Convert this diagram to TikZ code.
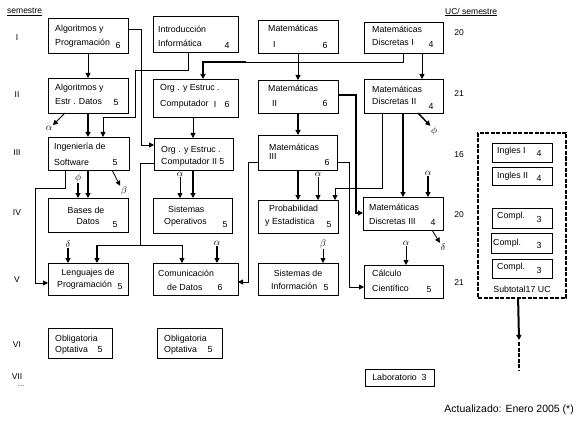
\documentclass[tikz,border=0pt]{standalone}
\usepackage{fontspec}
\setmainfont{Liberation Sans}
\usetikzlibrary{arrows.meta,calc,fit}
\newcommand\cbx[5]{\coordinate (#1-a) at (#2,#3); \coordinate (#1-b) at (#4,#5); \node[cb, fit=(#1-a)(#1-b)] (#1) {};}
\begin{document}
\begin{tikzpicture}[x=1pt,y=-1pt,
  cb/.style={draw, line width=0.8pt, inner sep=0pt, outer sep=0pt},
  tx/.style={font=\fontsize{8.8}{10}\selectfont, inner sep=0pt, anchor=west},
  tc/.style={font=\fontsize{8.8}{10}\selectfont, inner sep=0pt},
  nm/.style={font=\fontsize{8.8}{10}\selectfont, inner sep=0pt},
  gr/.style={font=\fontsize{10}{11}\selectfont, inner sep=0.5pt},
  lb/.style={font=\fontsize{8.5}{10}\selectfont, inner sep=0pt},
  thn/.style={line width=0.8pt},
  med/.style={line width=1.4pt},
  thk/.style={line width=2pt},
  arr/.style={-{Triangle[length=5pt,width=5pt]}},
  dsh/.style={line width=1.8pt, dash pattern=on 4pt off 1.5pt}]
\useasboundingbox (0,0) rectangle (580,422);

% headers
\node[lb, anchor=west] (hsem) at (7,12) {\underline{semestre}};
\node[lb, anchor=west] (huc) at (445,12) {\underline{UC/ semestre}};
\node[lb] (r1) at (17,38) {I};
\node[lb] (r2) at (17,95) {II};
\node[lb] (r3) at (17,153) {III};
\node[lb] (r4) at (17,213) {IV};
\node[lb] (r5) at (17,280) {V};
\node[lb] (r6) at (17,345) {VI};
\node[lb] (r7) at (17,377) {VII};
\node[lb, font=\fontsize{6}{7}\selectfont] (r8) at (21,386) {....};
\node[lb] (u1) at (459,33) {20};
\node[lb] (u2) at (459,94) {21};
\node[lb] (u3) at (459,155) {16};
\node[lb] (u4) at (459,215) {20};
\node[lb] (u5) at (459,283) {21};
\node[lb, anchor=east, font=\fontsize{10.5}{12}\selectfont] (foot) at (574,410) {Actualizado: Enero 2005 (*)};

% boxes
\cbx{ap}{48}{18}{128}{53}
\node[tx] (ap1) at (55,29) {Algoritmos y};
\node[tx] (ap2) at (55,43) {Programación};
\node[nm] (ap3) at (118,45) {6};

\cbx{ii}{153}{16}{238}{52}
\node[tx] (ii1) at (158,29) {Introducción};
\node[tx] (ii2) at (158,43) {Informática};
\node[nm] (ii3) at (227,45) {4};

\cbx{m1}{258}{20}{338}{53}
\node[tx] (m11) at (268,28) {Matemáticas};
\node[tx] (m12) at (273,44) {I};
\node[nm] (m13) at (325,45) {6};

\cbx{d1}{364}{22}{443}{53}
\node[tx] (d11) at (372,29) {Matemáticas};
\node[tx] (d12) at (372,42) {Discretas I};
\node[nm] (d13) at (431,44) {4};

\cbx{ae}{48}{78}{128}{113}
\node[tx] (ae1) at (55,88) {Algoritmos y};
\node[tx] (ae2) at (55,102) {Estr . Datos};
\node[nm] (ae3) at (116,103) {5};

\cbx{o1}{153}{79}{238}{117}
\node[tx] (o11) at (160,88) {Org . y Estruc .};
\node[tx] (o12) at (160,104) {Computador};
\node[nm] (o13) at (215,104) {I};
\node[nm] (o14) at (227,104) {6};

\cbx{m2}{258}{80}{338}{113}
\node[tx] (m21) at (268,88) {Matemáticas};
\node[tx] (m22) at (272,103) {II};
\node[nm] (m23) at (325,103) {6};

\cbx{d2}{364}{79}{443}{113}
\node[tx] (d21) at (372,89) {Matemáticas};
\node[tx] (d22) at (372,101) {Discretas II};
\node[nm] (d23) at (431,106) {4};

\cbx{is}{48}{137}{129}{170}
\node[tx] (is1) at (54,147) {Ingeniería de};
\node[tx] (is2) at (54,162) {Software};
\node[nm] (is3) at (115,163) {5};

\cbx{o2}{154}{138}{233}{170}
\node[tx] (o21) at (161,150) {Org . y Estruc .};
\node[tx] (o22) at (161,162) {Computador II 5};

\cbx{m3}{258}{135}{337}{170}
\node[tx] (m31) at (269,147) {Matemáticas};
\node[tx] (m32) at (269,156) {III};
\node[nm] (m33) at (327,162) {6};

\cbx{bd}{48}{198}{128}{232}
\node[tc] (bd1) at (86,210) {Bases de};
\node[tc] (bd2) at (88,222) {Datos};
\node[nm] (bd3) at (115,225) {5};

\cbx{so}{153}{198}{232}{233}
\node[tx] (so1) at (168,209) {Sistemas};
\node[tx] (so2) at (164,222) {Operativos};
\node[nm] (so3) at (225,225) {5};

\cbx{pe}{258}{200}{338}{233}
\node[tx] (pe1) at (269,208) {Probabilidad};
\node[tx] (pe2) at (265,222) {y Estadistica};
\node[nm] (pe3) at (329,225) {5};

\cbx{d3}{363}{197}{443}{230}
\node[tx] (d31) at (369,207) {Matemáticas};
\node[tx] (d32) at (369,221) {Discretas III};
\node[nm] (d33) at (433,222) {4};

\cbx{lp}{48}{263}{128}{295}
\node[tc] (lp1) at (88,273) {Lenguajes de};
\node[tx] (lp2) at (57,285) {Programación};
\node[nm] (lp3) at (120,287) {5};

\cbx{cd}{153}{263}{238}{295}
\node[tx] (cd1) at (158,273) {Comunicación};
\node[tx] (cd2) at (167,287) {de Datos};
\node[nm] (cd3) at (220,287) {6};

\cbx{si}{258}{263}{338}{295}
\node[tc] (si1) at (298,273) {Sistemas de};
\node[tx] (si2) at (271,286) {Información};
\node[nm] (si3) at (326,288) {5};

\cbx{cc}{364}{265}{443}{298}
\node[tx] (cc1) at (372,273) {Cálculo};
\node[tx] (cc2) at (372,288) {Científico};
\node[nm] (cc3) at (429,290) {5};

\cbx{ob1}{48}{328}{112}{358}
\node[tx] (ob11) at (55,339) {Obligatoria};
\node[tx] (ob12) at (55,350) {Optativa};
\node[nm] (ob13) at (100,350) {5};

\cbx{ob2}{157}{328}{222}{358}
\node[tx] (ob21) at (164,339) {Obligatoria};
\node[tx] (ob22) at (164,350) {Optativa};
\node[nm] (ob23) at (210,350) {5};

\cbx{lab}{365}{369}{434}{386}
\node[tc] (lab1) at (399.5,377.5) {Laboratorio\ \ 3};

% right dashed group
\coordinate (dba) at (478,133); \coordinate (dbb) at (566,298);
\node[dsh, draw, inner sep=0pt, fit=(dba)(dbb)] (db) {};
\cbx{g1}{492}{143}{552}{162}
\node[tx] (g11) at (497,151) {Ingles I};
\node[nm] (g12) at (539,153) {4};
\cbx{g2}{492}{167}{552}{185}
\node[tx] (g21) at (497,176) {Ingles II};
\node[nm] (g22) at (539,178) {4};
\cbx{c1}{492}{208}{552}{228}
\node[tx] (c11) at (497,216) {Compl.};
\node[nm] (c12) at (539,219) {3};
\cbx{c2}{491}{233}{552}{253}
\node[tx] (c21) at (493,243) {Compl.};
\node[nm] (c22) at (539,245) {3};
\cbx{c3}{492}{259}{552}{278}
\node[tx] (c31) at (497,267) {Compl.};
\node[nm] (c32) at (539,270) {3};
\node[tc] (sub) at (522,289) {Subtotal17 UC};
\coordinate (dend) at (519,340);
\coordinate (dtail) at (519,370);
\draw[thk,arr] ($(db.south west)+(41,0)$) -- (dend);
\draw[dsh] ($(dend)+(0,2)$) -- (dtail);

% greek labels
\node[gr] (al1) at (49,128) {$\alpha$};
\node[gr] (phi2) at (434,131) {$\phi$};
\node[gr] (al3) at (318,174) {$\alpha$};
\node[gr] (phi1) at (78,178) {$\phi$};
\node[gr] (be1) at (124,191) {$\beta$};
\node[gr] (al2) at (180,174) {$\alpha$};
\node[gr] (de1) at (68,244) {$\delta$};
\node[gr] (al4) at (217,243) {$\alpha$};
\node[gr] (al5) at (428,173) {$\alpha$};
\node[gr] (de2) at (443,247) {$\delta$};
\node[gr] (be2) at (323,244) {$\beta$};
\node[gr] (al6) at (406,243) {$\alpha$};

% connectors
\draw[thn,arr] (ap.south) -- (ae.north);
\draw[thn,arr] ($(ap.north east)+(0,11)$) -| ($(o2.north west)+(-13,7)$) -- ($(o2.north west)+(0,7)$);
\draw[thn,arr] ($(ii.south west)+(35,0)$) |- (135,70) |- (103,117) -- ($(is.north west)+(55,0)$);
\draw[thk,arr] ($(ae.south west)+(40,0)$) -- ($(is.north west)+(40,0)$);
\draw[thn,arr] ($(ae.south west)+(17,0)$) -- (al1.north east);
\draw[thn,arr] ($(o1.south west)+(40,0)$) -- ($(o2.north west)+(39,0)$);
\draw[thn] ($(d1.south west)+(39,0)$) |- (246,62);
\draw[thk,arr] (246,62) -| ($(o1.north west)+(50,0)$);
\draw[thn,arr] (m1.south) -- (m2.north);
\draw[thn,arr] ($(d1.south west)+(58,0)$) -- ($(d2.north west)+(58,0)$);
\draw[thk,arr] ($(m2.north east)+(0,15)$) -| (356,213) -- ($(d3.north west)+(0,16)$);
\draw[thn,arr] ($(d2.south west)+(18,0)$) |- (335,188) -- ($(pe.north west)+(77,0)$);
\draw[thk,arr] ($(d2.south west)+(39,0)$) -- ($(d3.north west)+(40,0)$);
\draw[med,arr] ($(d2.south west)+(54,0)$) -- (phi2.north west);
\draw[thk,arr] ($(m2.south west)+(40,0)$) -- ($(m3.north west)+(40,0)$);
\draw[thk,arr] ($(m3.south west)+(40,0)$) -- ($(pe.north west)+(40,0)$);
\draw[thn,arr] (al3.south) -- ($(pe.north west)+(60,0)$);
\draw[thn,arr] ($(m3.north east)+(0,27)$) -| (349,287) -- ($(cc.north west)+(0,22)$);
\draw[thn,arr] ($(m3.north west)+(0,27)$) -| (248,282) -- ($(cd.north east)+(0,19)$);
\draw[thk,arr] ($(is.south west)+(40,0)$) -- ($(bd.north west)+(40,0)$);
\draw[thk,arr] (phi1.south) -- ($(bd.north west)+(30,0)$);
\draw[thn,arr] ($(is.south west)+(64,0)$) -- (be1.north west);
\draw[thn,arr] ($(is.south west)+(17,0)$) |- (35,188) |- ($(lp.north west)+(0,20)$);
\draw[thn,arr] (al2.south) -- ($(so.north west)+(27,0)$);
\draw[thk,arr] ($(o2.south west)+(39,0)$) -- ($(so.north west)+(40,0)$);
\draw[thn] ($(o2.north west)+(0,25)$) -| (140,245);
\draw[thn] (97,245) -- (182,245);
\draw[thk,arr] (97,245) -- ($(lp.north west)+(49,0)$);
\draw[thn,arr] (182,245) -- ($(cd.north west)+(29,0)$);
\draw[med,arr] (de1.south) -- ($(lp.north west)+(20,0)$);
\draw[med,arr] (al4.south) -- ($(cd.north west)+(64,0)$);
\draw[thk,arr] (al5.south) -- ($(d3.north west)+(65,0)$);
\draw[thn,arr] ($(d3.south west)+(69,0)$) -- (de2.north west);
\draw[thn,arr] (be2.south) -- ($(si.north west)+(65,0)$);
\draw[thn,arr] (al6.south) -- ($(cc.north west)+(42,0)$);
\end{tikzpicture}
\end{document}
